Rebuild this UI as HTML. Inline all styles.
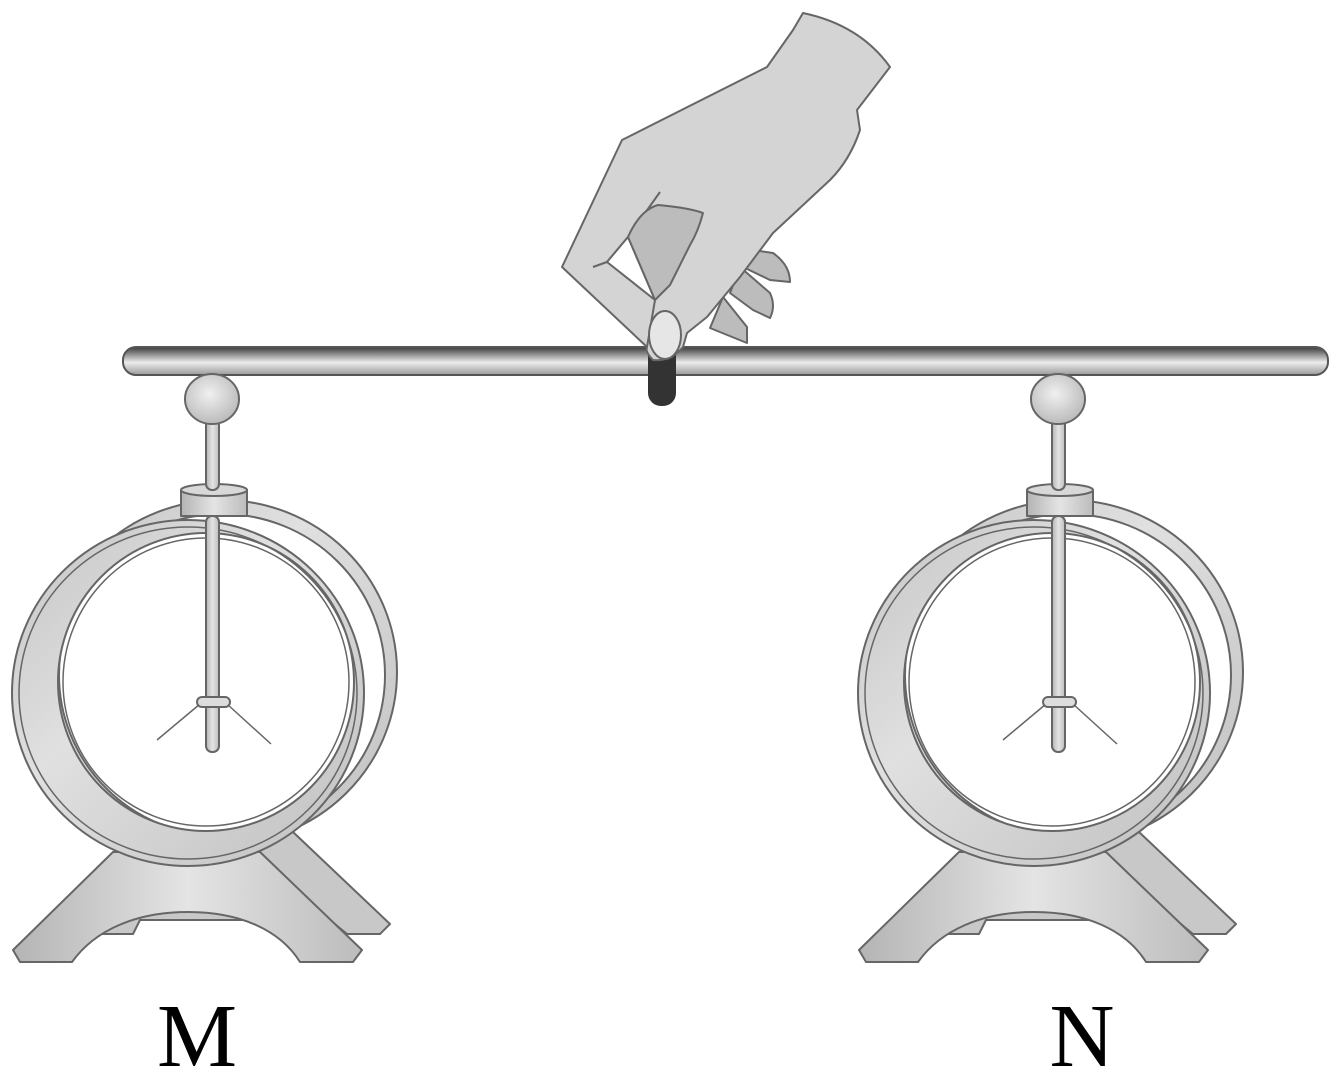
<!DOCTYPE html>
<html><head><meta charset="utf-8"><style>
html,body{margin:0;padding:0;background:#fff;width:1339px;height:1077px;overflow:hidden}
svg{display:block}
</style></head><body>
<svg width="1339" height="1077" viewBox="0 0 1339 1077" xmlns="http://www.w3.org/2000/svg">
<defs>
<linearGradient id="rod" x1="0" y1="0" x2="0" y2="1">
<stop offset="0" stop-color="#3a3a3a"/><stop offset="0.55" stop-color="#ececec"/><stop offset="1" stop-color="#9a9a9a"/>
</linearGradient>
<linearGradient id="metal" x1="0" y1="0" x2="1" y2="0">
<stop offset="0" stop-color="#b4b4b4"/><stop offset="0.5" stop-color="#e4e4e4"/><stop offset="1" stop-color="#bcbcbc"/>
</linearGradient>
<linearGradient id="band" x1="0" y1="0" x2="1" y2="1">
<stop offset="0" stop-color="#c4c4c4"/><stop offset="0.4" stop-color="#e0e0e0"/><stop offset="1" stop-color="#c0c0c0"/>
</linearGradient>
<radialGradient id="ball" cx="0.45" cy="0.4" r="0.6">
<stop offset="0" stop-color="#f0f0f0"/><stop offset="1" stop-color="#bbb"/>
</radialGradient>
<g id="scope" stroke="#666" stroke-width="2" stroke-linejoin="round">
  <path d="M145,880 L293,832 L390,924 L380,934 L347,934 L330,920 L140,920 L133,934 L100,934 Z" fill="#c8c8c8"/>
  <path d="M113,852 L260,852 L362,950 L353,962 L300,962 C280,930 240,912 188,912 C136,912 95,930 72,962 L20,962 L13,950 Z" fill="url(#metal)"/>
  <!-- back ring -->
  <path fill-rule="evenodd" fill="url(#band)" d="M47,672 a175,172 0 1,0 350,0 a175,172 0 1,0 -350,0 Z M59,675 a163,161 0 1,0 326,0 a163,161 0 1,0 -326,0 Z"/>
  <!-- front ring -->
  <path fill-rule="evenodd" fill="url(#band)" d="M12,693 a176,173 0 1,0 352,0 a176,173 0 1,0 -352,0 Z M58,682 a148,149 0 1,0 296,0 a148,149 0 1,0 -296,0 Z"/>
  <ellipse cx="188" cy="693" rx="169" ry="166" fill="none" stroke-width="1.5"/>
  <ellipse cx="206" cy="682" rx="143" ry="144" fill="none" stroke-width="1.5"/>
  <rect x="181" y="490" width="66" height="26" fill="url(#metal)"/>
  <ellipse cx="214" cy="490" rx="33" ry="6" fill="#d8d8d8"/>
  <rect x="206" y="418" width="13" height="72" rx="6" fill="url(#metal)"/>
  <rect x="206" y="516" width="13" height="236" rx="6" fill="url(#metal)"/>
  <line x1="200" y1="704" x2="157" y2="740" stroke="#666" stroke-width="1.5"/>
  <line x1="227" y1="704" x2="271" y2="744" stroke="#666" stroke-width="1.5"/>
  <rect x="197" y="697" width="33" height="10" rx="5" fill="#ddd"/>
  <ellipse cx="212" cy="399" rx="27" ry="25" fill="url(#ball)"/>
</g>
</defs>

<rect x="123" y="347" width="1205" height="28" rx="13" fill="url(#rod)" stroke="#555" stroke-width="2"/>
<rect x="648" y="352" width="28" height="54" rx="13" fill="#333"/>
<rect x="648" y="352" width="28" height="14" fill="#333"/>

<use href="#scope"/>
<use href="#scope" transform="translate(846,0)"/>

<g stroke="#666" stroke-width="2" stroke-linejoin="round">
  <path d="M753,250 L773,253 Q790,265 790,282 L770,280 L743,267 Z" fill="#bcbcbc"/>
  <path d="M740,267 L770,293 Q776,306 770,318 L753,310 L730,293 Z" fill="#bcbcbc"/>
  <path d="M723,297 L747,327 L747,343 L710,328 Z" fill="#bcbcbc"/>
  <path d="M803,13 Q860,25 890,67 L857,110 L860,130 Q850,160 830,180 L773,233 L740,277 L707,317 L687,333 L683,347 Q670,362 653,360 Q645,352 647,347 L562,267 L622,140 L767,67 L793,30 Z" fill="#d4d4d4"/>
  <path d="M593,267 L607,262 L628,237 L660,192" fill="none"/>
  <path d="M607,262 L628,237 L655,300 Z" fill="#fff"/>
  <path d="M628,237 Q640,210 658,205 Q690,208 703,213 Q698,232 690,245 L670,285 L655,300 Z" fill="#bcbcbc"/>
  <path d="M655,300 L647,347" fill="none"/>
  <ellipse cx="665" cy="335" rx="16" ry="24" fill="#e6e6e6"/>
</g>

<text x="197" y="1066" font-family="Liberation Serif, serif" font-size="90" text-anchor="middle" fill="#000">M</text>
<text x="1082" y="1066" font-family="Liberation Serif, serif" font-size="90" text-anchor="middle" fill="#000">N</text>
</svg>
</body></html>
